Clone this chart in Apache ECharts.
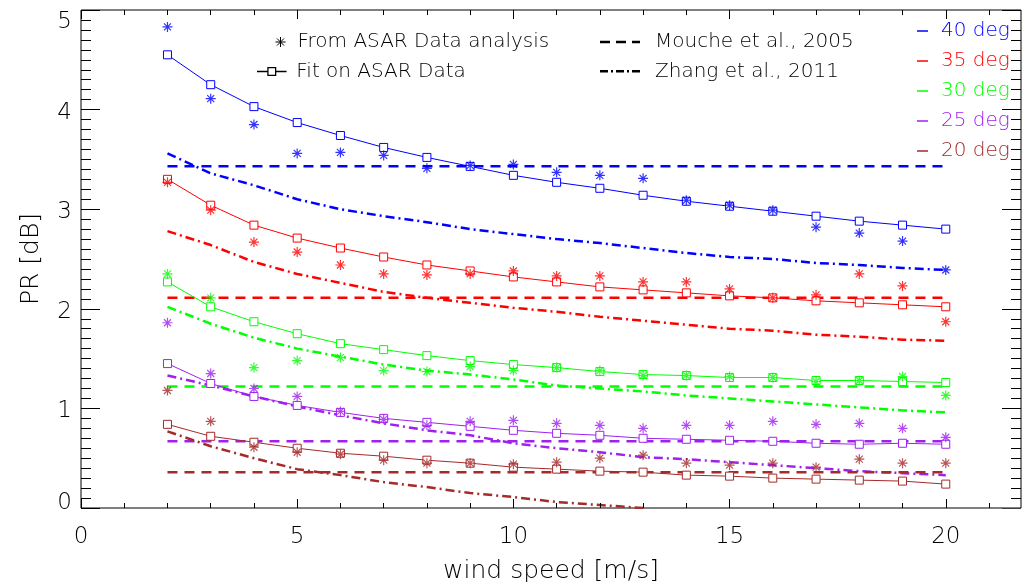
<!DOCTYPE html>
<html>
<head>
<meta charset="utf-8">
<script src="https://cdn.jsdelivr.net/npm/echarts@6/dist/echarts.min.js"></script>
<style>
  html, body { margin: 0; padding: 0; background: #fff; }
  #chart { width: 1033px; height: 582px; }
</style>
</head>
<body>
<div id="chart"></div>
<script>
// Wind speeds (m/s) at which the polarisation ratio is evaluated
const windSpeed = [2, 3, 4, 5, 6, 7, 8, 9, 10, 11, 12, 13, 14, 15, 16, 17, 18, 19, 20];

// Incidence angles
const angles = ['40 deg', '35 deg', '30 deg', '25 deg', '20 deg'];
const angleColors = ['#0000ff', '#ff0000', '#00ff00', '#a020f0', '#a52a2a'];

// PR [dB] from the ASAR data analysis
const asar40 = [4.83, 4.11, 3.85, 3.56, 3.57, 3.54, 3.41, 3.44, 3.45, 3.37, 3.34, 3.31, 3.09, 3.04, 2.99, 2.82, 2.76, 2.68, 2.39];
const asar35 = [3.27, 2.99, 2.67, 2.57, 2.44, 2.35, 2.34, 2.35, 2.38, 2.33, 2.33, 2.27, 2.27, 2.20, 2.11, 2.14, 2.35, 2.23, 1.87];
const asar30 = [2.35, 2.11, 1.41, 1.48, 1.51, 1.38, 1.37, 1.42, 1.38, 1.41, 1.38, 1.33, 1.33, 1.32, 1.31, 1.27, 1.28, 1.32, 1.13];
const asar25 = [1.86, 1.35, 1.20, 1.12, 0.97, 0.89, 0.83, 0.87, 0.88, 0.85, 0.83, 0.80, 0.83, 0.83, 0.87, 0.84, 0.85, 0.80, 0.71];
const asar20 = [1.18, 0.87, 0.61, 0.56, 0.54, 0.48, 0.45, 0.45, 0.44, 0.46, 0.50, 0.53, 0.45, 0.43, 0.45, 0.41, 0.49, 0.45, 0.45];

// PR [dB] of the fit on the ASAR data
const fit40 = [4.55, 4.25, 4.03, 3.87, 3.74, 3.62, 3.52, 3.43, 3.34, 3.27, 3.21, 3.14, 3.08, 3.03, 2.98, 2.93, 2.88, 2.84, 2.80];
const fit35 = [3.30, 3.04, 2.84, 2.71, 2.61, 2.52, 2.44, 2.38, 2.32, 2.27, 2.22, 2.19, 2.16, 2.13, 2.11, 2.08, 2.06, 2.04, 2.02];
const fit30 = [2.27, 2.02, 1.87, 1.75, 1.65, 1.59, 1.53, 1.48, 1.44, 1.41, 1.37, 1.34, 1.33, 1.31, 1.31, 1.28, 1.28, 1.27, 1.26];
const fit25 = [1.45, 1.25, 1.12, 1.03, 0.96, 0.90, 0.86, 0.82, 0.78, 0.75, 0.73, 0.70, 0.69, 0.68, 0.67, 0.65, 0.64, 0.65, 0.64];
const fit20 = [0.84, 0.72, 0.66, 0.60, 0.55, 0.52, 0.48, 0.45, 0.41, 0.39, 0.37, 0.36, 0.33, 0.32, 0.30, 0.29, 0.28, 0.27, 0.24];

// Mouche et al., 2005: constant PR per incidence angle
const mouche = [3.43, 2.11, 1.22, 0.67, 0.36];

// Zhang et al., 2011 model PR [dB]
const zhang40 = [3.56, 3.36, 3.24, 3.10, 3.00, 2.93, 2.87, 2.80, 2.75, 2.70, 2.66, 2.61, 2.56, 2.52, 2.50, 2.46, 2.44, 2.41, 2.39];
const zhang35 = [2.78, 2.64, 2.47, 2.35, 2.26, 2.17, 2.11, 2.06, 2.01, 1.97, 1.92, 1.88, 1.84, 1.80, 1.78, 1.74, 1.72, 1.69, 1.68];
const zhang30 = [2.02, 1.85, 1.71, 1.60, 1.52, 1.44, 1.38, 1.34, 1.29, 1.23, 1.20, 1.17, 1.13, 1.10, 1.07, 1.04, 1.01, 0.98, 0.96];
const zhang25 = [1.33, 1.23, 1.12, 1.02, 0.93, 0.85, 0.78, 0.73, 0.65, 0.60, 0.56, 0.51, 0.49, 0.46, 0.43, 0.40, 0.37, 0.35, 0.33];
const zhang20 = [0.77, 0.62, 0.50, 0.39, 0.33, 0.26, 0.21, 0.15, 0.11, 0.06, 0.03, 0.00];

// Axis ranges and tick steps
const xMajorStep = 5;
const xMinorStep = 1;
const yMajorStep = 1;
const yMinorStep = 0.1;
const xRange = [0, 21.74];
const yRange = [0, 5];

const asarSets = [asar40, asar35, asar30, asar25, asar20];
const fitSets = [fit40, fit35, fit30, fit25, fit20];
const zhangSets = [zhang40, zhang35, zhang30, zhang25, zhang20];

// Plot frame inside the 1033 x 582 canvas
const GRID = { left: 81, right: 12, top: 10, bottom: 74 };
const PX_PER_X = (1033 - GRID.left - GRID.right) / (xRange[1] - xRange[0]);
const PX_PER_Y = (582 - GRID.top - GRID.bottom) / (yRange[1] - yRange[0]);

const FONT = 'DejaVu Sans';
const WEIGHT = 200;
const LBL_ASAR = 'From ASAR Data analysis';
const LBL_FIT = 'Fit on ASAR Data';
const LBL_MOUCHE = 'Mouche et al., 2005';
const LBL_ZHANG = 'Zhang et al., 2011';

const asteriskPath = 'path://M5,0V10M0,5H10M1.5,1.5L8.5,8.5M8.5,1.5L1.5,8.5';
const fitIcon = 'path://M0,4h8v1h-8z M8,1h7v7h-7z M9,2v5h5v-5z M15,4h8v1h-8z';
const dashIcon = 'path://M0,0h10v2.5h-10z M16,0h10v2.5h-10z M32,0h8v2.5h-8z';
const dashDotIcon = 'path://M0,0h8v2.5h-8z M11,0h2v2.5h-2z M16,0h8v2.5h-8z M27,0h2v2.5h-2z M32,0h8v2.5h-8z';

const pairs = (xs, ys) => ys.map((v, i) => [xs[i], v]);

const series = [];
angles.forEach((name, k) => {
  const c = angleColors[k];
  series.push({
    name, type: 'line', data: pairs(windSpeed, fitSets[k]),
    symbol: 'rect', symbolSize: 8, z: 3,
    lineStyle: { color: c, width: 1 },
    itemStyle: { color: '#fff', borderColor: c, borderWidth: 1 }
  });
  series.push({
    name, type: 'scatter', data: pairs(windSpeed, asarSets[k]),
    symbol: asteriskPath, symbolSize: 10, z: 4,
    itemStyle: { color: 'rgba(0,0,0,0)', borderColor: c, borderWidth: 1.2 }
  });
  series.push({
    name, type: 'line',
    data: [[windSpeed[0], mouche[k]], [windSpeed[windSpeed.length - 1], mouche[k]]],
    symbol: 'none', z: 2,
    lineStyle: { color: c, width: 2.5, type: [10, 7] }
  });
  series.push({
    name, type: 'line', data: pairs(windSpeed, zhangSets[k]),
    symbol: 'none', z: 2,
    lineStyle: { color: c, width: 2.5, type: [9, 4, 2, 4] }
  });
});

// Entries that only feed the style legend
[LBL_ASAR, LBL_FIT, LBL_MOUCHE, LBL_ZHANG].forEach(name => {
  series.push({ name, type: 'line', data: [], symbol: 'none' });
});

// Tick positions for the inward frame ticks
const tickValues = (range, step) => {
  const out = [];
  const n = Math.floor((range[1] - range[0]) / step + 1e-9);
  for (let i = 0; i <= n; i++) out.push(+(range[0] + i * step).toFixed(6));
  return out;
};
const isMajor = (v, step) => Math.abs(v / step - Math.round(v / step)) < 1e-6;

// Frame ticks as short segments on every side, drawn by a lines series
const tickSegments = [];
tickValues(xRange, xMinorStep).forEach(v => {
  const h = (isMajor(v, xMajorStep) ? 9 : 5) / PX_PER_Y;
  tickSegments.push({ coords: [[v, yRange[0]], [v, yRange[0] + h]] });
  tickSegments.push({ coords: [[v, yRange[1]], [v, yRange[1] - h]] });
});
tickValues(yRange, yMinorStep).forEach(v => {
  const w = (isMajor(v, yMajorStep) ? 19 : 10) / PX_PER_X;
  tickSegments.push({ coords: [[xRange[0], v], [xRange[0] + w, v]] });
  tickSegments.push({ coords: [[xRange[1], v], [xRange[1] - w, v]] });
});
series.push({
  type: 'lines', coordinateSystem: 'cartesian2d', polyline: false,
  silent: true, z: 7, symbol: 'none', effect: { show: false },
  lineStyle: { color: '#000', width: 1, opacity: 1, curveness: 0 },
  data: tickSegments
});

const labelFont = { fontSize: 23, color: '#000', fontFamily: FONT, fontWeight: WEIGHT };
const nameFont = { fontSize: 25, color: '#000', fontFamily: FONT, fontWeight: WEIGHT };

const xAxis = {
  type: 'value', position: 'bottom', min: xRange[0], max: xRange[1], interval: xMajorStep,
  axisLine: { show: false, onZero: false },
  axisTick: { show: true, inside: true, length: 9, lineStyle: { color: '#000', width: 1 } },
  splitLine: { show: false },
  axisLabel: Object.assign({ show: true, margin: 18, showMaxLabel: false }, labelFont),
  name: 'wind speed [m/s]', nameLocation: 'middle', nameGap: 51,
  nameMoveOverlap: false, nameTextStyle: nameFont
};

const yAxis = {
  type: 'value', position: 'left', min: yRange[0], max: yRange[1], interval: yMajorStep,
  axisLine: { show: false, onZero: false },
  axisTick: { show: true, inside: true, length: 19, lineStyle: { color: '#000', width: 1 } },
  splitLine: { show: false },
  axisLabel: {
    show: true, margin: 9,
    formatter: v => v === yRange[0] ? '{lo|' + v + '}' : v === yRange[1] ? '{hi|' + v + '}' : '{mid|' + v + '}',
    rich: {
      lo: Object.assign({ padding: [0, 0, 10, 0] }, labelFont),
      hi: Object.assign({ padding: [24, 0, 0, 0] }, labelFont),
      mid: Object.assign({ padding: [6, 0, 0, 0] }, labelFont)
    }
  },
  name: 'PR [dB]', nameLocation: 'middle', nameGap: 37, nameRotate: 90,
  nameMoveOverlap: false, nameTextStyle: nameFont
};

const legendText = (pad, color) => ({
  fontSize: 20, lineHeight: 20, color: color || '#000', fontFamily: FONT, fontWeight: WEIGHT,
  padding: [0, 0, 0, pad]
});

const legend = [
  {
    left: 275, top: 32, padding: 0, orient: 'vertical', selectedMode: false,
    itemWidth: 10, itemHeight: 10, textStyle: legendText(7),
    data: [{ name: LBL_ASAR, icon: asteriskPath,
      itemStyle: { color: 'rgba(0,0,0,0)', borderColor: '#000', borderWidth: 1 } }]
  },
  {
    left: 257, top: 61.5, padding: 0, orient: 'vertical', selectedMode: false,
    itemWidth: 31, itemHeight: 9, textStyle: legendText(4),
    data: [{ name: LBL_FIT, icon: fitIcon, itemStyle: { color: '#000', borderWidth: 0 } }]
  },
  {
    left: 600, top: 32, padding: 0, orient: 'vertical', selectedMode: false,
    itemWidth: 40, itemHeight: 3, itemGap: 9.3, textStyle: legendText(10),
    data: [
      { name: LBL_MOUCHE, icon: dashIcon, itemStyle: { color: '#000', borderWidth: 0 } },
      { name: LBL_ZHANG, icon: dashDotIcon, itemStyle: { color: '#000', borderWidth: 0 } }
    ]
  },
  {
    left: 917, top: 21, padding: 0, orient: 'vertical', selectedMode: false,
    itemWidth: 11, itemHeight: 1.5, itemGap: 10, textStyle: legendText(8),
    data: angles.map((name, k) => ({
      name, icon: 'rect',
      itemStyle: { color: angleColors[k], borderWidth: 0 },
      textStyle: { color: angleColors[k] }
    }))
  }
];

const chart = echarts.init(document.getElementById('chart'), null, { renderer: 'canvas' });
chart.setOption({
  backgroundColor: '#fff',
  animation: false,
  grid: Object.assign({
    outerBoundsMode: 'none', containLabel: false,
    show: true, borderColor: '#000', borderWidth: 1, backgroundColor: 'transparent'
  }, GRID),
  xAxis, yAxis, legend, series
});
</script>
</body>
</html>
